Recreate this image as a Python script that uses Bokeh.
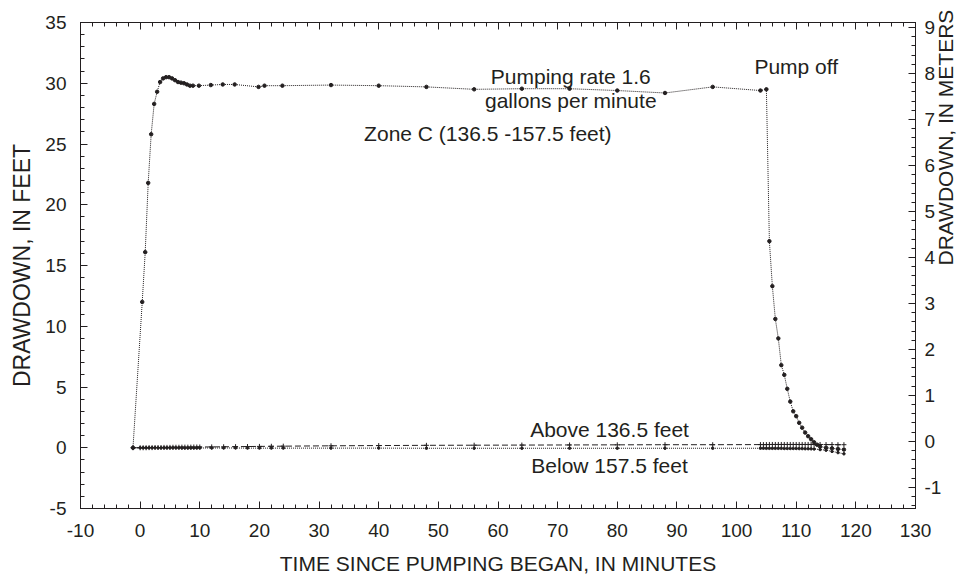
import math
from bokeh.plotting import figure
from bokeh.models import Range1d, LinearAxis, SingleIntervalTicker
from bokeh.core.properties import value
from bokeh.embed import file_html
from bokeh.resources import INLINE

# ---- data ----
zone_c_t = [-1.2, 0.35, 0.85, 1.35, 1.85, 2.35, 2.85, 3.35, 3.85, 4.35, 4.85, 5.35, 5.85,
            6.35, 6.85, 7.35, 7.85, 8.35, 8.85, 9.85, 11.85, 13.85, 15.85, 19.85, 20.85,
            23.85, 32, 40, 48, 56, 64, 72, 80, 88, 96, 104, 105,
            105.5, 106, 106.5, 107, 107.5, 108, 108.5, 109, 109.5, 110, 110.5, 111,
            111.5, 112, 112.5, 113, 113.5, 114, 115, 116, 117, 118]
zone_c_ft = [0.0, 12.0, 16.1, 21.8, 25.8, 28.3, 29.3, 30.1, 30.4, 30.5, 30.5, 30.4, 30.25,
             30.1, 30.05, 30.0, 29.9, 29.8, 29.8, 29.8, 29.85, 29.9, 29.9, 29.7, 29.8,
             29.8, 29.85, 29.8, 29.7, 29.5, 29.55, 29.55, 29.4, 29.2, 29.7, 29.4, 29.5,
             17.0, 13.3, 10.6, 9.0, 6.8, 6.0, 4.85, 3.8, 3.0, 2.6, 2.05, 1.65,
             1.25, 0.95, 0.7, 0.45, 0.25, 0.1, 0.0, -0.05, -0.1, -0.15]

obs_t = [-1.2, 0, 0.5, 1, 1.5, 2, 2.5, 3, 3.5, 4, 4.5, 5, 5.5, 6, 6.5, 7, 7.5, 8, 8.5, 9, 9.5, 10,
         12, 14, 16, 18, 20, 22, 24, 32, 40, 48, 56, 64, 72, 80, 88, 96, 104,
         104.5, 105, 105.5, 106, 106.5, 107, 107.5, 108, 108.5, 109, 109.5, 110, 110.5,
         111, 111.5, 112, 112.5, 113, 114, 115, 116, 117, 118]
above_ft = [0.0, 0.0, 0.0, 0.0, 0.01, 0.01, 0.02, 0.02, 0.02, 0.03, 0.03, 0.03, 0.04, 0.04,
            0.04, 0.05, 0.05, 0.05, 0.05, 0.06, 0.06, 0.06,
            0.07, 0.08, 0.09, 0.1, 0.11, 0.12, 0.13, 0.16, 0.18, 0.2, 0.21, 0.22, 0.23, 0.24,
            0.25, 0.25, 0.26,
            0.26, 0.26, 0.27, 0.27, 0.27, 0.27, 0.27, 0.27, 0.27, 0.27, 0.27, 0.27, 0.27,
            0.27, 0.27, 0.27, 0.27, 0.27, 0.27, 0.26, 0.26, 0.25, 0.25]
below_ft = [0.0, 0.0, 0.0, 0.0, 0.0, 0.0, 0.0, -0.01, -0.01, -0.01, -0.01, -0.01, -0.01, -0.01,
            -0.01, -0.02, -0.02, -0.02, -0.02, -0.02, -0.02, -0.02,
            -0.02, -0.02, -0.02, -0.03, -0.03, -0.03, -0.03, -0.03, -0.03, -0.04, -0.04, -0.04,
            -0.04, -0.04, -0.04, -0.04, -0.04,
            -0.04, -0.05, -0.05, -0.05, -0.05, -0.05, -0.05, -0.06, -0.06, -0.06, -0.06, -0.06,
            -0.07, -0.07, -0.08, -0.08, -0.09, -0.1, -0.15, -0.2, -0.3, -0.4, -0.5]
x_ticks = [-10, 0, 10, 20, 30, 40, 50, 60, 70, 80, 90, 100, 110, 120, 130]

FONT = "Liberation Sans"
INK = "#231f20"

p = figure(width=973, height=581, x_range=Range1d(-10, 130), y_range=Range1d(-5, 35),
           output_backend="svg", toolbar_location=None,
           min_border_left=80, min_border_right=58, min_border_top=22, min_border_bottom=73)
p.extra_y_ranges = {"m": Range1d(-1.46, 9.11)}
p.grid.visible = False
p.outline_line_color = INK
p.background_fill_color = "white"
p.border_fill_color = "white"


def style_axis(ax, label_size="21px"):
    ax.axis_line_color = INK
    ax.major_tick_line_color = INK
    ax.minor_tick_line_color = INK
    ax.major_tick_in = 7
    ax.major_tick_out = 0
    ax.minor_tick_in = 4
    ax.minor_tick_out = 0
    ax.major_label_text_font = FONT
    ax.major_label_text_color = INK
    ax.major_label_text_font_size = "19px"
    ax.axis_label_text_font = FONT
    ax.axis_label_text_font_style = "normal"
    ax.axis_label_text_color = INK
    ax.axis_label_text_font_size = label_size


xa = p.xaxis[0]
xa.ticker = SingleIntervalTicker(interval=10, num_minor_ticks=5)
xa.axis_label = "TIME SINCE PUMPING BEGAN, IN MINUTES"
style_axis(xa)
xa.major_label_overrides = {-10: "-10"}
xa.major_label_standoff = 15
xa.axis_label_standoff = 12

ya = p.yaxis[0]
ya.ticker = SingleIntervalTicker(interval=5, num_minor_ticks=5)
ya.axis_label = "DRAWDOWN, IN FEET"
style_axis(ya, "23px")
ya.major_label_overrides = {-5: "-5"}
ya.major_label_standoff = 14
ya.axis_label_standoff = 7

top = LinearAxis(ticker=SingleIntervalTicker(interval=10, num_minor_ticks=5))
style_axis(top)
top.major_label_overrides = {t: "" for t in x_ticks}
top.major_label_standoff = 0
p.add_layout(top, "above")

right = LinearAxis(y_range_name="m", ticker=SingleIntervalTicker(interval=1, num_minor_ticks=5),
                   axis_label="DRAWDOWN, IN METERS")
style_axis(right)
right.major_label_overrides = {-1: "-1"}
right.major_label_standoff = 9
right.axis_label_standoff = 1
if "axis_label_orientation" in right.properties():
    right.axis_label_orientation = math.pi / 2
    right.axis_label_text_align = "center"
p.add_layout(right, "right")

# series
p.line(obs_t, above_ft, line_color=INK, line_width=1, line_dash="6 3")
p.scatter(obs_t, above_ft, marker="cross", size=5, line_color=INK, line_width=1)
p.line(obs_t, below_ft, line_color=INK, line_width=1, line_dash="1 1")
p.scatter(obs_t, below_ft, marker="circle", size=2.5, fill_color=INK, line_color=INK)
p.line(zone_c_t, zone_c_ft, line_color=INK, line_width=1, line_dash="1 1")
p.scatter(zone_c_t, zone_c_ft, marker="circle", size=3.5, fill_color=INK, line_color=INK)

# annotations
txt = dict(text_font=value(FONT), text_font_size="21px", text_color=INK,
           text_align="center", text_baseline="middle")
p.text(x=[72.2], y=[30.55], text=["Pumping rate 1.6"], **txt)
p.text(x=[72.2], y=[28.6], text=["gallons per minute"], **txt)
p.text(x=[110.0], y=[31.4], text=["Pump off"], **txt)
p.text(x=[58.3], y=[25.9], text=["Zone C (136.5 -157.5 feet)"], **txt)
p.text(x=[78.7], y=[1.5], text=["Above 136.5 feet"], **txt)
p.text(x=[78.7], y=[-1.46], text=["Below 157.5 feet"], **txt)

open("out.html", "w").write(file_html(p, INLINE))
